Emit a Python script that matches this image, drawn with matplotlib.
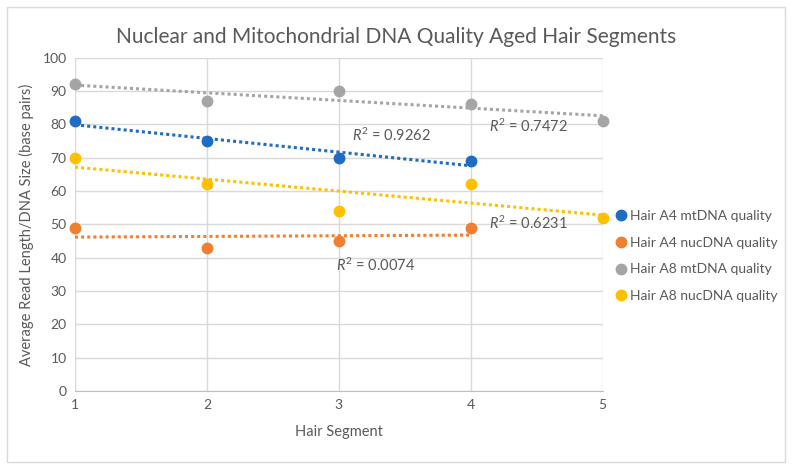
import numpy as np
import matplotlib
matplotlib.use("Agg")
import matplotlib.pyplot as plt
from matplotlib.patches import Rectangle

# data
a4_segments = [1, 2, 3, 4]
a8_segments = [1, 2, 3, 4, 5]
a4_mt = [81, 75, 70, 69]
a4_nuc = [49, 43, 45, 49]
a8_mt = [92, 87, 90, 86, 81]
a8_nuc = [70, 62, 54, 62, 52]

series = [
    ("Hair A4 mtDNA quality", a4_segments, a4_mt, "#1F6CC4", (3.10, 76.8)),
    ("Hair A4 nucDNA quality", a4_segments, a4_nuc, "#F07F2F", (2.98, 37.8)),
    ("Hair A8 mtDNA quality", a8_segments, a8_mt, "#A5A5A5", (4.14, 79.5)),
    ("Hair A8 nucDNA quality", a8_segments, a8_nuc, "#FFC000", (4.14, 50.4)),
]

text_col = "#595959"
grid_col = "#D9D9D9"
plt.rcParams["font.family"] = ["Lato", "DejaVu Sans"]
plt.rcParams["mathtext.fontset"] = "custom"
plt.rcParams["mathtext.it"] = "Lato:italic"
plt.rcParams["mathtext.rm"] = "Lato"

fig = plt.figure(figsize=(7.92, 4.70), dpi=100)
ax = fig.add_axes([0.0947, 0.168, 0.761 - 0.0947, 0.877 - 0.168])

for name, xs, ys, col, lbl_pos in series:
    x = np.array(xs, dtype=float)
    y = np.array(ys, dtype=float)
    ax.plot(x, y, "o", color=col, ms=7.5, label=name, zorder=4, clip_on=False)
    slope, icpt = np.polyfit(x, y, 1)
    fit = slope * x + icpt
    r2 = 1 - np.sum((y - fit) ** 2) / np.sum((y - y.mean()) ** 2)
    ax.plot([x[0], x[-1]], [slope * x[0] + icpt, slope * x[-1] + icpt],
            linestyle=(0, (1, 1)), color=col, lw=2.2, zorder=3)
    ax.text(lbl_pos[0], lbl_pos[1], r"$\it{R}^2$" + f" = {r2:.4f}",
            color=text_col, fontsize=10.5, va="center", ha="left")

ax.set_xlim(1, 5)
ax.set_ylim(0, 100)
ax.set_xticks([1, 2, 3, 4, 5])
ax.set_yticks(range(0, 101, 10))
ax.grid(True, color=grid_col, lw=1)
ax.set_axisbelow(True)
for side in ["top", "right", "left"]:
    ax.spines[side].set_visible(False)
ax.spines["bottom"].set_color("#BFBFBF")
ax.tick_params(length=0, colors=text_col, labelsize=10, pad=6)

ax.set_xlabel("Hair Segment", color=text_col, fontsize=10.5, labelpad=10)
ax.set_ylabel("Average Read Length/DNA Size (base pairs)", color=text_col,
              fontsize=10.5, labelpad=6)
fig.text(0.5, 0.922, "Nuclear and Mitochondrial DNA Quality Aged Hair Segments",
         ha="center", va="center", color=text_col, fontsize=15)

ax.legend(loc="center left", bbox_to_anchor=(1.0, 0.405), frameon=False,
          fontsize=10, labelcolor=text_col, handletextpad=0.1,
          handlelength=1.2, labelspacing=1.05, borderaxespad=0.3)

fig.patches.append(Rectangle((7 / 792, 8 / 470), 778 / 792, 455 / 470,
                             transform=fig.transFigure, fill=False,
                             edgecolor=grid_col, lw=1))

fig.savefig("out.png", dpi=100)
